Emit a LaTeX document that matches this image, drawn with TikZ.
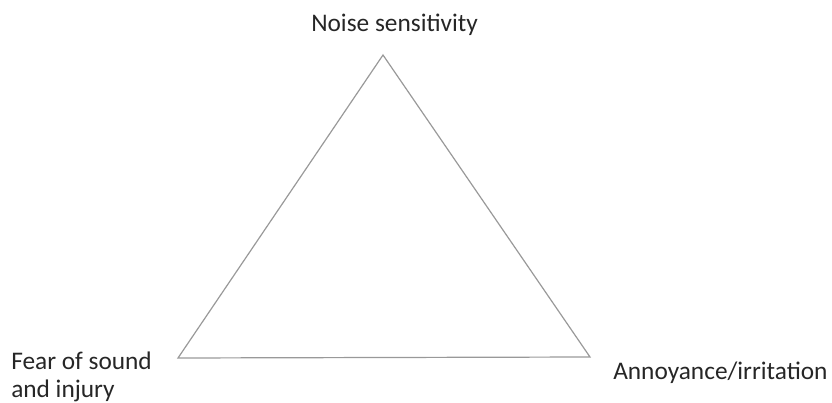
\documentclass[tikz,border=0pt]{standalone}
\usepackage{fontspec}
\setmainfont{Carlito}
\usetikzlibrary{positioning}

\begin{document}
\begin{tikzpicture}[
  x=0.75pt, y=-0.75pt,
  edge/.style={draw=black!40, line width=0.9pt, line join=miter},
  lbl/.style={font=\fontsize{19}{21}\selectfont, text=black!85, inner sep=0pt},
]
\useasboundingbox (0,0) rectangle (832,403);
\coordinate (top) at (383,55);
\coordinate (left) at (178,358);
\coordinate (right) at (590,357);
\draw[edge] (top) -- (left) -- (right) -- cycle;
\node[lbl, anchor=base west] (noise) at (311,32) {Noise sensitivity};
\node[lbl, anchor=base west] (fear) at (11,369) {Fear of sound};
\node[lbl, anchor=base west] (injury) at (11,397) {and injury};
\node[lbl, anchor=base west] (annoy) at (613,379) {Annoyance/irritation};
\end{tikzpicture}
\end{document}
